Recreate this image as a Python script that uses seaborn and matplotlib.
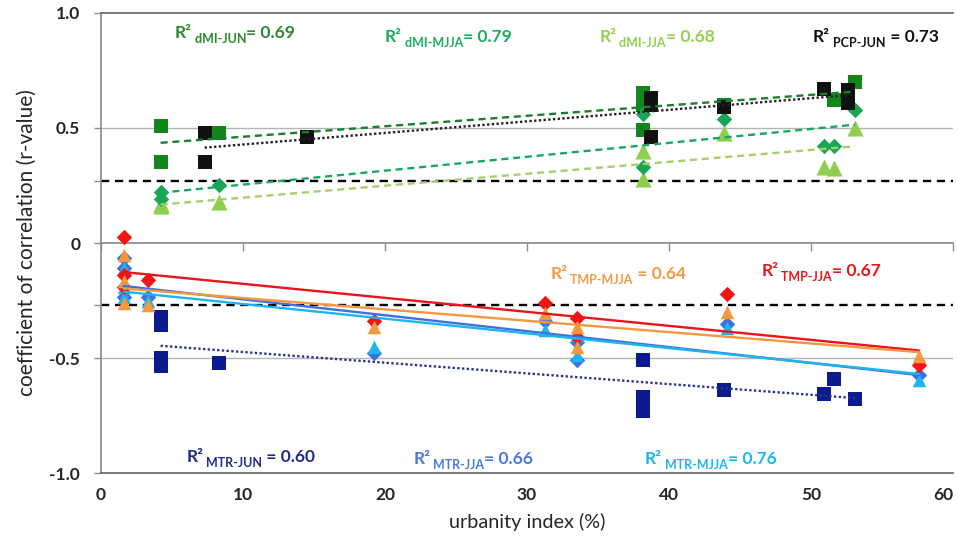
import numpy as np
import matplotlib.pyplot as plt
import seaborn as sns

sns.set_theme(style="white")
plt.rcParams["font.family"] = ["Lato", "DejaVu Sans"]

# urbanity index (%) and r-values, one pair of lists per series
dmi_jun_x = [4.2, 4.2, 8.3, 38.2, 38.2, 38.2, 43.9, 50.9, 51.6, 53.1]
dmi_jun_r = [0.51, 0.35, 0.48, 0.65, 0.60, 0.49, 0.60, 0.67, 0.62, 0.70]

dmi_jja_x = [4.2, 4.2, 8.3, 38.2, 38.2, 43.9, 50.9, 51.6, 53.1]
dmi_jja_r = [0.17, 0.16, 0.18, 0.40, 0.28, 0.48, 0.33, 0.325, 0.50]

dmi_mjja_x = [4.2, 4.2, 8.3, 38.2, 38.2, 43.9, 50.9, 51.6, 53.1]
dmi_mjja_r = [0.22, 0.19, 0.25, 0.56, 0.33, 0.54, 0.42, 0.42, 0.58]

pcp_jun_x = [7.3, 7.3, 14.5, 38.7, 38.7, 38.7, 43.9, 50.9, 52.6, 52.6]
pcp_jun_r = [0.48, 0.35, 0.46, 0.63, 0.60, 0.46, 0.59, 0.67, 0.665, 0.61]

mtr_jun_x = [4.2, 4.2, 4.2, 4.2, 8.3, 38.2, 38.2, 38.2, 43.9, 50.9, 51.6, 53.1]
mtr_jun_r = [-0.32, -0.355, -0.50, -0.535, -0.52, -0.51, -0.67, -0.73, -0.64, -0.655, -0.59, -0.68]

mtr_jja_x = [1.6, 1.6, 1.6, 3.3, 19.2, 31.3, 33.5, 33.5, 44.1, 57.6]
mtr_jja_r = [-0.065, -0.11, -0.235, -0.235, -0.48, -0.34, -0.43, -0.51, -0.35, -0.575]

mtr_mjja_x = [1.6, 1.6, 1.6, 3.3, 19.2, 31.3, 33.5, 33.5, 44.1, 57.6]
mtr_mjja_r = [-0.11, -0.19, -0.235, -0.25, -0.45, -0.38, -0.40, -0.485, -0.37, -0.595]

tmp_jja_x = [1.6, 1.6, 1.6, 3.3, 19.2, 31.3, 33.5, 33.5, 44.1, 57.6]
tmp_jja_r = [0.025, -0.14, -0.19, -0.16, -0.34, -0.26, -0.325, -0.41, -0.22, -0.53]

tmp_mjja_x = [1.6, 1.6, 1.6, 3.3, 19.2, 31.3, 33.5, 33.5, 44.1, 57.6]
tmp_mjja_r = [-0.05, -0.165, -0.26, -0.27, -0.365, -0.305, -0.365, -0.45, -0.30, -0.49]

r_sig = 0.27
x_ticks = [0, 10, 20, 30, 40, 50, 60]
y_ticks = [-1.0, -0.5, 0, 0.5, 1.0]
y_tick_labels = ["-1.0", "-0.5", "0", "0.5", "1.0"]

# (x, r, marker colour, marker, size, line colour, line style)
series = [
    (dmi_jun_x, dmi_jun_r, "#12861a", "s", 105, "#1c7d2c", (0, (3, 2))),
    (dmi_jja_x, dmi_jja_r, "#8fcf4f", "^", 135, "#a5cf6a", (0, (3, 2))),
    (dmi_mjja_x, dmi_mjja_r, "#17a653", "D", 62, "#1aa860", (0, (3, 2))),
    (pcp_jun_x, pcp_jun_r, "#111111", "s", 105, "#222222", (0, (1, 1))),
    (mtr_jun_x, mtr_jun_r, "#0b1a8e", "s", 115, "#2a3590", (0, (1, 1))),
    (mtr_jja_x, mtr_jja_r, "#4070e0", "D", 62, "#4070e0", "-"),
    (mtr_mjja_x, mtr_mjja_r, "#1cb5ee", "^", 95, "#1cb5ee", "-"),
    (tmp_jja_x, tmp_jja_r, "#f01616", "D", 62, "#e8161c", "-"),
    (tmp_mjja_x, tmp_mjja_r, "#f5973f", "^", 95, "#f5973f", "-"),
]

# R² labels: x, baseline y, subscript, rest, colour
r2_labels = [
    (5.2, 0.89, " dMI-JUN", "= 0.69", "#2a8a2a"),
    (20.0, 0.874, " dMI-MJJA", "= 0.79", "#1aae5c"),
    (35.1, 0.874, " dMI-JJA", "= 0.68", "#92d050"),
    (50.15, 0.874, " PCP-JUN", " = 0.73", "#111111"),
    (31.65, -0.157, " TMP-MJJA", " = 0.64", "#f39a45"),
    (46.5, -0.143, " TMP-JJA", "= 0.67", "#e8161c"),
    (6.0, -0.952, " MTR-JUN", " = 0.60", "#1f2a8a"),
    (22.0, -0.961, " MTR-JJA", "= 0.66", "#4a78dc"),
    (38.3, -0.961, " MTR-MJJA", "= 0.76", "#1cb5ee"),
]

fig, ax = plt.subplots(figsize=(9.57, 5.4), dpi=100)
fig.subplots_adjust(left=0.1055, right=0.9958, top=0.976, bottom=0.124)

for i, (xs, rs, col, mk, size, lcol, ls) in enumerate(series):
    sns.scatterplot(x=xs, y=rs, ax=ax, marker=mk, s=size, color=col,
                    linewidth=0, zorder=3 + i * 0.01)
for xs, rs, col, mk, size, lcol, ls in series:
    sns.regplot(x=xs, y=rs, ax=ax, scatter=False, ci=None, truncate=True,
                color=lcol, line_kws=dict(lw=1.7, linestyle=ls, zorder=4))

ax.axhline(r_sig, color="black", lw=1.7, dashes=(3.5, 2.4), zorder=2)
ax.axhline(-r_sig, color="black", lw=1.7, dashes=(3.5, 2.4), zorder=2)

ax.set_xlim(0, 60)
ax.set_ylim(-1.0, 1.0)
ax.set_xticks(x_ticks)
ax.set_yticks(y_ticks)
ax.set_yticklabels(y_tick_labels)
ax.set_yticks([-r_sig, r_sig], minor=True)
ax.tick_params(axis="x", length=0, pad=10, labelsize=12.5)
ax.tick_params(axis="y", which="both", left=True, length=5, width=1,
               color="#8c8c8c", pad=10, labelsize=12.5)
for lab in ax.get_xticklabels() + ax.get_yticklabels():
    lab.set_fontweight("bold")
ax.get_xticklabels()[-1].set_horizontalalignment("right")

for yv in [-0.5, 0.5]:
    ax.axhline(yv, color="#b4b4b4", lw=1, zorder=0.5)

for side in ["top", "bottom"]:
    ax.spines[side].set_color("#707070")
    ax.spines[side].set_linewidth(1.3)
ax.spines["left"].set_color("#8c8c8c")
ax.spines["right"].set_visible(False)

# category axis line crossing at r = 0, ticks hanging down
sec = ax.secondary_xaxis(0.4999)
sec.set_xticks(x_ticks)
sec.tick_params(length=6, width=1, color="#8c8c8c", labelbottom=False, labeltop=False)
sec.spines["bottom"].set_color("#8c8c8c")
sec.spines["top"].set_visible(False)

ax.set_xlabel("urbanity index (%)", fontsize=14.3, labelpad=7)
ax.set_ylabel("coefficient of correlation (r-value)", fontsize=15, labelpad=9)

for x, y, sub, rest, col in r2_labels:
    t1 = ax.text(x, y, "R²", color=col, fontsize=12.5, fontweight="bold", va="baseline")
    t2 = ax.annotate(sub, xy=(1, 0), xycoords=t1, xytext=(0, -3), textcoords="offset points",
                     fontsize=9, fontweight="bold", color=col, va="bottom")
    ax.annotate(rest, xy=(1, 0), xycoords=(t2, t1), fontsize=12.5, fontweight="bold",
                color=col, va="bottom")

fig.savefig("out.png", dpi=100)
